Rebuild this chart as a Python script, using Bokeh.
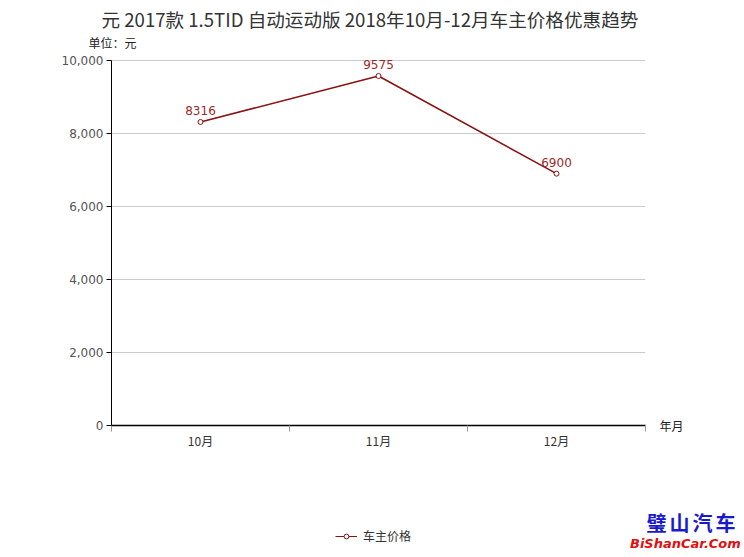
import numpy as np
from bokeh.plotting import figure
from bokeh.layouts import column, row
from bokeh.models import (Range1d, FixedTicker, NumeralTickFormatter, Title, Div,
                          Legend, LegendItem, ColumnDataSource, LinearAxis)
from bokeh.core.properties import value
from bokeh.embed import file_html
from bokeh.resources import INLINE

months = ["10月", "11月", "12月"]
prices = [8316, 9575, 6900]
y_ticks = [0, 2000, 4000, 6000, 8000, 10000]
title_text = "元 2017款 1.5TID 自动运动版 2018年10月-12月车主价格优惠趋势"
unit_text = "单位：元"
xaxis_name = "年月"
series_name = "车主价格"
wm_cn = "璧山汽车"
wm_en = "BiShanCar.Com"

CJK = "Noto Sans CJK SC"
NUM = "DejaVu Sans"
LINE_C = "#8b1010"
W = 744
FL, FR = 111, 645          # frame left / right on the page
FT, AX_TOP, AX_BOT = 50, 60, 425   # frame top, y of axis max, y of axis 0
y_max = y_ticks[-1]
y_end = y_max * (AX_BOT - FT) / (AX_BOT - AX_TOP)   # headroom so top labels are not clipped

# ---- main chart ----
xs = np.arange(len(months)) + 0.5
src = ColumnDataSource(dict(x=xs, y=prices, lab=[str(v) for v in prices]))

MAIN_H = 500
p = figure(width=W, height=MAIN_H, output_backend="svg", toolbar_location=None,
           title=None,
           x_range=Range1d(0, len(months)), y_range=Range1d(0, y_end),
           min_border_left=FL, min_border_right=W - FR, min_border_top=FT,
           min_border_bottom=MAIN_H - AX_BOT)
p.outline_line_color = None

p.add_layout(Title(text=unit_text, align="left", offset=88 - FL, text_font=CJK,
                   text_font_size="12px", text_font_style="normal",
                   text_color="#222222", standoff=0), "above")
p.add_layout(Title(text=title_text, align="left", offset=101 - FL, text_font=CJK,
                   text_font_size="18.6px", text_font_style="normal",
                   text_color="#333333", standoff=0), "above")

p.yaxis.ticker = FixedTicker(ticks=y_ticks)
p.yaxis.bounds = (0, y_max)
p.yaxis.formatter = NumeralTickFormatter(format="0,0")
p.yaxis.major_tick_out = 5
p.yaxis.major_tick_in = 0
p.yaxis.minor_tick_line_color = None
p.yaxis.axis_line_color = "black"
p.yaxis.major_tick_line_color = "black"
p.yaxis.major_label_text_font = NUM
p.yaxis.major_label_text_font_size = "12px"
p.yaxis.major_label_text_color = "#555555"
p.yaxis.major_label_standoff = 3

p.xaxis.ticker = FixedTicker(ticks=list(xs), minor_ticks=list(range(len(months) + 1)))
p.xaxis.major_label_overrides = {float(x): m for x, m in zip(xs, months)}
p.xaxis.major_tick_line_color = None
p.xaxis.minor_tick_out = 6
p.xaxis.minor_tick_in = 0
p.xaxis.minor_tick_line_color = "#999999"
p.xaxis.axis_line_color = "black"
p.xaxis.axis_line_width = 1.5
p.xaxis.major_label_text_font = CJK
p.xaxis.major_label_text_font_size = "12px"
p.xaxis.major_label_text_color = "#333333"
p.xaxis.major_label_standoff = 0

name_axis = LinearAxis(ticker=FixedTicker(ticks=[0]),
                       major_label_overrides={0: xaxis_name},
                       axis_line_color=None, major_tick_line_color=None,
                       minor_tick_line_color=None, major_label_standoff=8,
                       major_label_text_font=CJK, major_label_text_font_size="12px",
                       major_label_text_color="#222222")
p.add_layout(name_axis, "right")

p.xgrid.grid_line_color = None
p.ygrid.grid_line_color = "#cccccc"
p.ygrid.ticker = FixedTicker(ticks=y_ticks)

p.line("x", "y", source=src, line_color=LINE_C, line_width=1.5)
p.scatter("x", "y", source=src, size=5, marker="circle",
          fill_color="white", line_color=LINE_C, line_width=1)
p.text("x", "y", text="lab", source=src, y_offset=-7, text_align="center",
       text_baseline="bottom", text_font=value(NUM), text_font_size="12px",
       text_color="#9b2a2a")

# ---- bottom row: legend strip + watermark ----
BOT_H = 53
WM_W = 114
bot = figure(width=W - WM_W, height=BOT_H, output_backend="svg", toolbar_location=None,
             title=None, x_range=Range1d(0, 1), y_range=Range1d(0, 1),
             x_axis_type=None, y_axis_type=None,
             min_border_left=FL, min_border_right=0,
             min_border_top=0, min_border_bottom=0)
bot.outline_line_color = None
bot.grid.grid_line_color = None
lm = bot.scatter([0.5], [0.5], size=12, marker="circle", fill_color="white",
                 line_color=LINE_C, line_width=1, visible=False)
ll = bot.line([0, 1], [0.5, 0.5], line_color=LINE_C, line_width=1, visible=False)
legend = Legend(items=[LegendItem(label=series_name, renderers=[ll, lm])],
                location=(335 - FL, (MAIN_H + BOT_H) - 544), border_line_color=None,
                padding=0, margin=0, background_fill_alpha=0, label_text_font=CJK,
                label_text_font_size="12px", label_text_color="#333333",
                glyph_width=22, glyph_height=12, label_height=12, label_standoff=6)
bot.add_layout(legend, "center")

wm_html = (
    '<div style="margin:0;padding:9px 0 0 0;text-align:center;white-space:nowrap">'
    f'<div style="font-family:\'Noto Sans CJK SC\';font-size:20px;font-weight:bold;'
    f'color:#1a1acc;line-height:27px;letter-spacing:3px;padding-left:14px">{wm_cn}</div>'
    f'<div style="font-family:\'DejaVu Sans\';font-size:13px;font-weight:bold;'
    f'font-style:italic;color:#e01010;line-height:16px">{wm_en}</div></div>'
)
wm = Div(text=wm_html, width=WM_W, height=BOT_H, margin=0)

layout = column(p, row(bot, wm, spacing=0), spacing=0)
open("out.html", "w").write(file_html(layout, INLINE))
